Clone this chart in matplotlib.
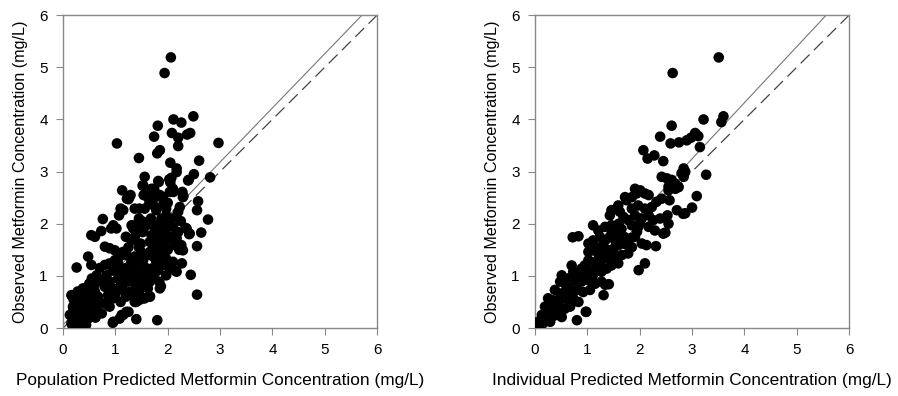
import numpy as np
import matplotlib
matplotlib.use("Agg")
import matplotlib.pyplot as plt

plt.rcParams['font.family'] = ['Liberation Sans', 'DejaVu Sans']

# population predicted (x) vs observed (y), mg/L
pop_pts = [
    (2.06,5.19),(1.94,4.89),(2.11,4.00),(2.26,3.94),(2.49,4.06),(1.81,3.88),(2.08,3.74),(1.74,3.67),
    (2.20,3.65),(2.20,3.49),(2.37,3.71),(2.43,3.74),(1.03,3.54),(2.97,3.55),(1.80,3.35),(1.85,3.41),
    (1.45,3.26),(2.05,3.17),(2.60,3.21),(2.17,3.06),(2.17,2.99),(2.50,2.95),(2.40,2.84),(2.81,2.89),
    (2.03,2.85),(2.05,2.79),(1.52,2.73),(1.83,2.80),(1.13,2.64),(1.74,2.67),(1.73,2.59),(1.79,2.52),
    (2.11,2.61),(1.29,2.55),(1.25,2.47),(1.54,2.55),(2.30,2.53),(2.58,2.43),(1.11,2.27),(1.07,2.16),
    (2.56,2.26),(2.77,2.08),(0.76,2.09),(2.34,1.92),(2.41,1.80),(2.64,1.83),(2.15,1.72),(2.56,1.57),
    (2.22,1.50),(2.27,1.24),(0.26,1.16),(2.14,1.10),(2.44,1.02),(1.84,0.89),(1.87,0.80),(2.56,0.64),
    (0.17,0.62),(1.66,0.61),(1.54,0.57),(1.40,0.50),(1.25,0.31),(1.12,0.25),(1.40,0.17),(0.95,0.10),
    (1.80,0.15),
    (1.56,2.90),(1.82,2.82),(2.07,2.88),(2.39,2.83),(1.27,2.51),(1.22,2.48),(1.53,2.74),(1.69,2.67),
    (1.75,2.61),(1.85,2.55),(1.91,2.51),(1.56,2.55),(1.62,2.51),(2.04,2.61),(2.10,2.67),(2.29,2.51),
    (2.28,2.61),(1.10,2.29),(1.15,2.26),(1.37,2.29),(1.46,2.29),(1.56,2.29),(1.72,2.36),(1.78,2.26),
    (1.91,2.36),(1.97,2.29),(2.20,2.23),(2.23,2.32),(2.15,2.13),(1.97,2.16),(2.04,2.10),(1.88,2.10),
    (0.96,1.97),(1.02,1.91),(0.92,1.91),(0.73,1.86),(0.54,1.78),(0.61,1.75),(1.31,1.97),(1.34,1.91),
    (1.40,1.84),(1.37,1.75),(1.31,1.68),(1.53,2.04),(1.56,1.94),(1.52,1.84),(1.72,1.97),(1.78,1.88),
    (1.69,1.78),(1.75,1.68),(1.66,1.65),(1.88,1.91),(1.85,1.75),(1.91,1.65),(1.97,1.68),(2.10,1.94),
    (2.20,1.84),(2.17,1.72),(2.13,1.59),(2.36,1.91),(2.42,1.81),(2.26,1.59),(2.29,1.49),(0.80,1.56),
    (0.89,1.53),(0.99,1.49),(1.15,1.46),(1.21,1.40),(1.08,1.37),(0.48,1.37),(0.54,1.21),(0.80,1.21),
    (0.89,1.24),(0.99,1.30),(1.05,1.24),(1.02,1.14),(1.11,1.08),(1.37,1.37),(1.43,1.27),(1.34,1.17),
    (1.43,1.08),(1.53,1.30),(1.56,1.17),(1.66,1.46),(1.72,1.37),(1.78,1.27),(1.69,1.14),(1.82,1.11),
    (1.91,1.46),(1.97,1.33),(1.91,1.21),(2.04,1.14),(1.97,1.01),(2.10,1.27),(2.17,1.08),(0.64,1.01),
    (0.70,0.92),(0.61,0.85),(0.83,1.01),(0.89,0.89),(0.80,0.79),(0.96,0.76),(1.05,0.95),(1.11,0.85),
    (1.18,1.01),(1.24,0.89),(1.15,0.73),(1.34,0.95),(1.40,0.82),(1.50,0.95),(1.56,0.82),(1.46,0.73),
    (1.66,0.89),(1.62,0.76),(1.85,0.76),(0.38,0.76),(0.48,0.70),(0.32,0.63),(0.41,0.57),(0.25,0.50),
    (0.35,0.47),(0.19,0.41),(0.16,0.63),(0.61,0.70),(0.67,0.60),(0.57,0.54),(0.70,0.50),(0.86,0.63),
    (0.96,0.57),(0.80,0.47),(0.89,0.41),(1.37,0.50),(1.46,0.54),(1.56,0.57),(1.66,0.60),(1.21,0.31),
    (1.15,0.25),(1.08,0.18),(0.96,0.12),(0.13,0.25),(0.19,0.18),(0.16,0.09),(0.25,0.12),(0.29,0.03),
    (0.35,0.22),(0.38,0.09),(0.45,0.28),(0.48,0.18),(0.22,0.31),(0.32,0.38),(0.41,0.41),(0.51,0.34),
    (0.25,0.03),(0.64,0.41),(0.67,0.31),
    (1.25,1.55),(1.30,1.25),(1.45,1.55),(1.48,1.62),(1.60,1.40),(1.62,1.05),(1.75,1.50),(1.80,1.60),
    (1.85,1.40),(1.95,1.85),(2.00,2.00),(1.68,2.10),(1.45,2.10),(1.20,1.15),(1.28,1.05),(1.50,1.45),
    (1.60,1.98),(1.40,1.98),(0.70,1.15),(0.75,0.90),(0.55,0.95),(0.45,0.55),(0.30,0.25),(0.40,0.15),
    (0.55,0.45),(0.20,0.55),(0.28,0.70),(0.50,0.85),(0.95,1.10),(1.00,0.65),(1.20,0.60),(1.10,0.50),
    (1.30,0.70),(1.70,0.95),(2.00,1.50),(2.05,1.75),(2.00,2.40),(1.65,2.40),(2.25,2.05),(1.85,2.00),
    (0.20,0.35),(0.28,0.45),(0.35,0.60),(0.42,0.70),(0.50,0.60),(0.55,0.75),(0.18,0.05),(0.32,0.12),
    (0.44,0.06),(0.58,0.30),(0.62,0.20),(0.74,0.28),(1.35,0.60),(1.48,0.85),(1.75,1.05),(1.20,1.75),
]

# individual predicted (x) vs observed (y), mg/L
ind_pts = [
    (3.51,5.19),(2.63,4.89),(3.22,4.00),(3.60,4.06),(3.56,3.95),(2.61,3.88),(2.39,3.67),(2.59,3.54),
    (2.75,3.56),(2.90,3.60),(2.98,3.65),(3.06,3.74),(3.12,3.68),(3.15,3.47),(2.07,3.41),(2.15,3.25),
    (2.28,3.31),(2.45,3.20),(2.84,3.06),(2.87,3.00),(2.80,2.97),(3.27,2.94),(2.42,2.90),(2.52,2.87),
    (2.61,2.84),(2.68,2.77),(2.74,2.71),(2.84,2.90),(2.55,2.71),(2.65,2.74),(3.09,2.53),(2.57,2.45),
    (3.00,2.31),(2.87,2.20),(2.71,2.26),(2.53,2.16),(2.49,1.83),(2.31,1.57),(2.10,1.24),(1.98,1.11),
    (0.72,1.74),(0.83,1.76),(1.31,0.63),(0.98,0.31),(0.80,0.15),(1.41,0.84),(1.34,0.83),
    (2.74,2.70),(2.68,2.67),(2.55,2.64),(1.91,2.67),(2.01,2.64),(1.94,2.58),(2.10,2.58),(2.17,2.55),
    (1.85,2.51),(1.72,2.51),(1.75,2.45),(1.59,2.35),(1.46,2.26),(1.43,2.16),(1.62,2.23),(1.69,2.13),
    (1.85,2.29),(1.97,2.35),(2.10,2.29),(2.23,2.32),(2.32,2.42),(2.42,2.48),(1.91,2.16),(2.04,2.10),
    (2.17,2.16),(2.26,2.07),(2.39,2.10),(1.78,2.07),(1.85,1.97),(1.97,1.94),(2.17,1.94),(2.29,1.87),
    (2.45,1.81),(2.55,2.00),(2.83,2.19),(1.11,1.97),(1.21,1.87),(1.34,1.94),(1.46,1.97),(1.02,1.62),
    (1.11,1.68),(1.24,1.75),(1.34,1.68),(1.43,1.75),(1.53,1.68),(1.02,1.46),(1.11,1.49),(1.21,1.43),
    (1.27,1.52),(1.40,1.49),(1.50,1.52),(1.59,1.59),(1.69,1.62),(1.82,1.72),(1.91,1.75),(2.04,1.62),
    (2.13,1.59),(1.02,1.30),(1.15,1.27),(1.27,1.30),(1.40,1.33),(1.53,1.36),(1.66,1.40),(1.78,1.43),
    (0.89,1.14),(0.96,1.08),(1.05,1.11),(1.18,1.14),(1.27,1.08),(1.37,1.14),(1.46,1.20),(1.59,1.24),
    (0.70,1.20),(0.73,1.08),(0.51,1.01),(0.61,0.95),(0.48,0.89),(0.76,0.92),(0.89,0.89),(1.02,0.92),
    (1.15,0.85),(1.27,0.89),(0.38,0.73),(0.48,0.66),(0.57,0.69),(0.67,0.76),(0.80,0.73),(0.92,0.69),
    (1.05,0.73),(0.25,0.57),(0.35,0.53),(0.45,0.50),(0.54,0.57),(0.64,0.53),(0.73,0.57),(0.83,0.50),
    (0.19,0.41),(0.29,0.37),(0.38,0.34),(0.48,0.31),(0.57,0.37),(0.67,0.41),(0.13,0.25),(0.22,0.21),
    (0.32,0.21),(0.41,0.25),(0.51,0.21),(0.06,0.12),(0.13,0.06),(0.19,0.12),(0.29,0.12),(0.97,0.31),
    (1.46,1.87),(0.02,0.02),(0.08,0.03),
    (1.55,1.80),(1.65,1.90),(1.70,1.75),(1.60,2.00),(1.75,1.60),(1.85,1.55),(1.95,1.85),(2.00,2.00),
    (1.50,1.95),(1.30,1.60),(1.15,1.55),(0.95,1.20),(0.85,1.00),(0.60,0.80),(0.70,0.60),(0.40,0.45),
    (0.30,0.30),(1.10,1.00),(1.20,1.20),(1.35,1.35),(0.15,0.18),(0.45,0.40),
]

# regression line (slope, intercept) per panel; dashed line is identity
reg_lines = [(1.04, 0.06), (1.075, 0.02)]

xlabels = ["Population Predicted Metformin Concentration (mg/L)",
           "Individual Predicted Metformin Concentration (mg/L)"]
ylabel = "Observed Metformin Concentration (mg/L)"
ticks = [0, 1, 2, 3, 4, 5, 6]

fig = plt.figure(figsize=(8.98, 3.96), dpi=100)
ax1 = fig.add_axes([0.0702, 0.1717, 0.3497, 0.790])
ax2 = fig.add_axes([0.5958, 0.1717, 0.3497, 0.790])

for ax, pts, (m, b), xl in zip([ax1, ax2], [pop_pts, ind_pts], reg_lines, xlabels):
    xs = np.array([p[0] for p in pts])
    ys = np.array([p[1] for p in pts])
    lx = np.array([0, 6])
    ax.plot(lx, m * lx + b, '-', color='#777777', lw=0.8, zorder=1)
    ax.plot(lx, lx, '--', color='#444444', lw=0.9, dashes=(10, 5), zorder=1)
    ax.scatter(xs, ys, s=58, color='black', edgecolors='none', zorder=3)
    ax.set_xlim(0, 6)
    ax.set_ylim(0, 6)
    ax.set_xticks(ticks)
    ax.set_yticks(ticks)
    ax.tick_params(direction='out', length=5, width=0.8, color='#888888', labelsize=11, pad=6)
    for sp in ax.spines.values():
        sp.set_color('#888888')
        sp.set_linewidth(1.0)
    ax.set_xlabel(xl, fontsize=12.4, labelpad=11)
    ax.set_ylabel(ylabel, fontsize=11.6, labelpad=8)

fig.savefig('out.png', dpi=100)
